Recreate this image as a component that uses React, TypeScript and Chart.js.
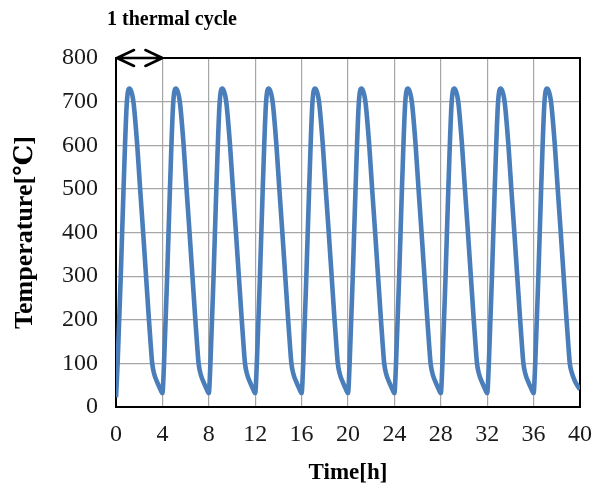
import React, { useEffect, useRef } from "react";
import { Chart, registerables } from "chart.js";

Chart.register(...registerables);

// Time [h] of each sampled point (ten 4-hour thermal cycles)
const timeHours: number[] = [
  0, 0.14, 0.41, 0.65, 0.94, 1.18, 1.5, 1.83, 2.08, 2.34, 2.59, 2.84, 3.0, 3.12, 3.3, 3.55, 3.8,
  4, 4.14, 4.41, 4.65, 4.94, 5.18, 5.5, 5.83, 6.08, 6.34, 6.59, 6.84, 7.0, 7.12, 7.3, 7.55, 7.8,
  8, 8.14, 8.41, 8.65, 8.94, 9.18, 9.5, 9.83, 10.08, 10.34, 10.59, 10.84, 11.0, 11.12, 11.3, 11.55, 11.8,
  12, 12.14, 12.41, 12.65, 12.94, 13.18, 13.5, 13.83, 14.08, 14.34, 14.59, 14.84, 15.0, 15.12, 15.3, 15.55, 15.8,
  16, 16.14, 16.41, 16.65, 16.94, 17.18, 17.5, 17.83, 18.08, 18.34, 18.59, 18.84, 19.0, 19.12, 19.3, 19.55, 19.8,
  20, 20.14, 20.41, 20.65, 20.94, 21.18, 21.5, 21.83, 22.08, 22.34, 22.59, 22.84, 23.0, 23.12, 23.3, 23.55, 23.8,
  24, 24.14, 24.41, 24.65, 24.94, 25.18, 25.5, 25.83, 26.08, 26.34, 26.59, 26.84, 27.0, 27.12, 27.3, 27.55, 27.8,
  28, 28.14, 28.41, 28.65, 28.94, 29.18, 29.5, 29.83, 30.08, 30.34, 30.59, 30.84, 31.0, 31.12, 31.3, 31.55, 31.8,
  32, 32.14, 32.41, 32.65, 32.94, 33.18, 33.5, 33.83, 34.08, 34.34, 34.59, 34.84, 35.0, 35.12, 35.3, 35.55, 35.8,
  36, 36.14, 36.41, 36.65, 36.94, 37.18, 37.5, 37.83, 38.08, 38.34, 38.59, 38.84, 39.0, 39.12, 39.3, 39.55, 39.8,
  40,
];

// Temperature [℃] at each time above
const temperatureC: number[] = [
  22, 100, 300, 500, 700, 730, 700, 600, 500, 400, 300, 200, 140, 100, 75, 57, 42,
  32, 100, 300, 500, 700, 730, 700, 600, 500, 400, 300, 200, 140, 100, 75, 57, 42,
  32, 100, 300, 500, 700, 730, 700, 600, 500, 400, 300, 200, 140, 100, 75, 57, 42,
  32, 100, 300, 500, 700, 730, 700, 600, 500, 400, 300, 200, 140, 100, 75, 57, 42,
  32, 100, 300, 500, 700, 730, 700, 600, 500, 400, 300, 200, 140, 100, 75, 57, 42,
  32, 100, 300, 500, 700, 730, 700, 600, 500, 400, 300, 200, 140, 100, 75, 57, 42,
  32, 100, 300, 500, 700, 730, 700, 600, 500, 400, 300, 200, 140, 100, 75, 57, 42,
  32, 100, 300, 500, 700, 730, 700, 600, 500, 400, 300, 200, 140, 100, 75, 57, 42,
  32, 100, 300, 500, 700, 730, 700, 600, 500, 400, 300, 200, 140, 100, 75, 57, 42,
  32, 100, 300, 500, 700, 730, 700, 600, 500, 400, 300, 200, 140, 100, 78, 60, 48,
  40,
];

const xTicks = { min: 0, max: 40, step: 4 };
const yTicks = { min: 0, max: 800, step: 100 };
const cycleSpan: number[] = [0, 4]; // the "1 thermal cycle" arrow span [h]
const annotationText = "1 thermal cycle";
const xTitle = "Time[h]";
const yTitle = "Temperature[℃]";

const SERIF = "'Liberation Serif', 'Times New Roman', 'DejaVu Serif', serif";

const framePlugin = {
  id: "frameAndAnnotation",
  beforeDatasetsDraw(chart: any) {
    const { ctx, chartArea } = chart;
    ctx.save();
    ctx.strokeStyle = "#000";
    ctx.lineWidth = 2;
    ctx.strokeRect(chartArea.left, chartArea.top, chartArea.right - chartArea.left, chartArea.bottom - chartArea.top);
    ctx.restore();
  },
  afterDraw(chart: any) {
    const { ctx, chartArea, scales } = chart;
    const x0 = scales.x.getPixelForValue(cycleSpan[0]);
    const x1 = scales.x.getPixelForValue(cycleSpan[1]);
    const y = chartArea.top;
    ctx.save();
    ctx.strokeStyle = "#000";
    ctx.lineWidth = 2.6;
    ctx.lineCap = "round";
    ctx.lineJoin = "round";
    ctx.beginPath();
    ctx.moveTo(x0 + 1, y);
    ctx.lineTo(x1, y);
    ctx.moveTo(x0 + 18, y - 8);
    ctx.lineTo(x0 + 1, y);
    ctx.lineTo(x0 + 18, y + 8);
    ctx.moveTo(x1 - 17, y - 8);
    ctx.lineTo(x1, y);
    ctx.lineTo(x1 - 17, y + 8);
    ctx.stroke();
    ctx.fillStyle = "#000";
    ctx.font = `bold 20px ${SERIF}`;
    ctx.textBaseline = "middle";
    ctx.textAlign = "left";
    ctx.fillText(annotationText, chartArea.left - 9, 20);
    ctx.restore();
  },
};

export default function App() {
  const canvasRef = useRef<HTMLCanvasElement | null>(null);

  useEffect(() => {
    const canvas = canvasRef.current;
    if (!canvas) return;
    const chart = new Chart(canvas, {
      type: "line",
      data: {
        datasets: [
          {
            data: timeHours.map((t, i) => ({ x: t, y: temperatureC[i] })),
            borderColor: "#4A7EBB",
            borderWidth: 4.6,
            pointRadius: 0,
            fill: false,
            cubicInterpolationMode: "monotone",
          },
        ],
      },
      options: {
        animation: false,
        responsive: false,
        maintainAspectRatio: false,
        layout: { padding: { top: 58, right: 14, bottom: 0, left: 0 } },
        plugins: {
          legend: { display: false },
          tooltip: { enabled: false },
          title: { display: false },
        },
        scales: {
          x: {
            type: "linear",
            min: xTicks.min,
            max: xTicks.max,
            ticks: {
              stepSize: xTicks.step,
              color: "#1a1a1a",
              font: { family: SERIF, size: 24 },
              padding: 13,
              maxRotation: 0,
              autoSkip: false,
            },
            grid: { color: "#a6a6a6", lineWidth: 1.2, drawTicks: false },
            border: { display: true, color: "#000", width: 2 },
            title: {
              display: true,
              text: xTitle,
              color: "#000",
              font: { family: SERIF, size: 23, weight: "bold" },
              padding: { top: 0, bottom: 2 },
            },
            afterFit: (s: any) => {
              s.height = 82;
              s.paddingLeft = 0;
              s.paddingRight = 0;
            },
          },
          y: {
            type: "linear",
            min: yTicks.min,
            max: yTicks.max,
            ticks: {
              stepSize: yTicks.step,
              color: "#1a1a1a",
              font: { family: SERIF, size: 24 },
              padding: 18,
            },
            grid: { color: "#a6a6a6", lineWidth: 1.2, drawTicks: false },
            border: { display: true, color: "#000", width: 2 },
            title: {
              display: true,
              text: yTitle,
              color: "#000",
              font: { family: SERIF, size: 26, weight: "bold" },
              padding: { top: 10, bottom: 0 },
            },
            afterFit: (s: any) => {
              s.width = 116;
              s.paddingTop = 0;
              s.paddingBottom = 0;
            },
          },
        },
      },
      plugins: [framePlugin],
    } as any);
    return () => chart.destroy();
  }, []);

  return (
    <div style={{ position: "absolute", left: 0, top: 0, width: 594, height: 489, background: "#fff" }}>
      <canvas ref={canvasRef} width={594} height={489} style={{ width: 594, height: 489, display: "block" }} />
    </div>
  );
}
